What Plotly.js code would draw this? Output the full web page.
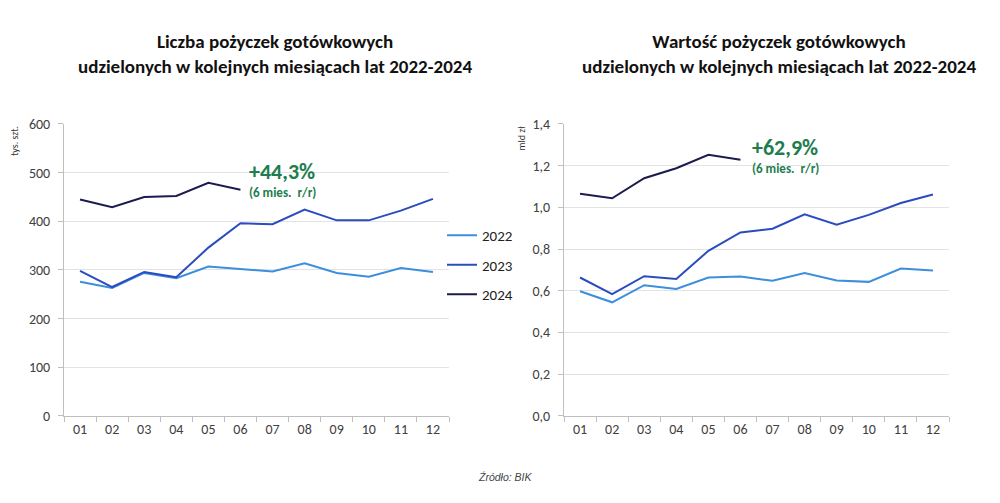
<!DOCTYPE html>
<html><head><meta charset="utf-8">
<script src="https://cdn.plot.ly/plotly-3.0.1.min.js"></script>
<style>html,body{margin:0;padding:0;background:#fff}#chart{width:1000px;height:503px}</style>
</head><body><div id="chart"></div>
<script>
const months = ["01","02","03","04","05","06","07","08","09","10","11","12"];
const years = ["2022","2023","2024"];
const count2022 = [276,263,294,283,307,302,297,314,294,286,304,296];
const count2023 = [298,265,296,285,346,396,394,424,402,402,422,446];
const count2024 = [445,429,450,452,479,465];
const value2022 = [0.598,0.545,0.627,0.609,0.664,0.669,0.648,0.685,0.650,0.643,0.707,0.698];
const value2023 = [0.664,0.584,0.670,0.657,0.792,0.880,0.898,0.967,0.917,0.964,1.021,1.062];
const value2024 = [1.066,1.044,1.140,1.188,1.252,1.228];
const colors = ["#3b8fdc","#2a4cbf","#1b1b4f"];

const countSeries = [count2022, count2023, count2024];
const valueSeries = [value2022, value2023, value2024];
const traces = [];
years.forEach((y,i)=>{
  traces.push({x: months.slice(0,countSeries[i].length), y: countSeries[i], type:'scatter', mode:'lines',
    name:y, legendgroup:y, line:{color:colors[i], width:2}, xaxis:'x', yaxis:'y'});
});
years.forEach((y,i)=>{
  traces.push({x: months.slice(0,valueSeries[i].length), y: valueSeries[i], type:'scatter', mode:'lines',
    name:y, legendgroup:y, showlegend:false, line:{color:colors[i], width:2}, xaxis:'x2', yaxis:'y2'});
});

const cal = "Carlito, Calibri, Lato, 'Open Sans', sans-serif";
const tickFont = {family:cal, size:14, color:'#404040'};
const xCommon = {type:'category', tickson:'boundaries', ticks:'outside', ticklen:5, tickcolor:'#bfbfbf',
  showline:true, linecolor:'#bfbfbf', linewidth:1, showgrid:false, tickfont:tickFont, range:[-0.5,11.5], fixedrange:true};
const yCommon = {ticks:'outside', ticklen:5, tickcolor:'#bfbfbf', showline:true, linecolor:'#bfbfbf', linewidth:1,
  showgrid:true, gridcolor:'#e3e3e3', gridwidth:1, zeroline:false, tickfont:tickFont, ticklabelstandoff:5};

const titleFont = {family:cal, size:19, color:'#111', weight:600};
const green = '#1e7d4f';
function ann(x, y, text, font, extra){
  return Object.assign({xref:'paper', yref:'paper', x:x/1000, y:1-y/503, xanchor:'center', yanchor:'middle',
    text:text, showarrow:false, font:font}, extra||{});
}
const layout = {
  width:1000, height:503, margin:{l:0,r:0,t:0,b:0}, paper_bgcolor:'#fff', plot_bgcolor:'#fff',
  showlegend:true,
  legend:{x:0.442, y:1-265/503, xanchor:'left', yanchor:'middle', font:{family:cal, size:15, color:'#222'},
    tracegroupgap:7, itemwidth:30, bgcolor:'rgba(0,0,0,0)'},
  xaxis: Object.assign({}, xCommon, {domain:[0.064,0.449], anchor:'y'}),
  yaxis: Object.assign({}, yCommon, {domain:[0.173,0.7535], range:[0,600], dtick:100, anchor:'x'}),
  xaxis2: Object.assign({}, xCommon, {domain:[0.564,0.949], anchor:'y2'}),
  yaxis2: Object.assign({}, yCommon, {domain:[0.173,0.7535], range:[0,1.4], dtick:0.2, tickformat:'.1f', anchor:'x2'}),
  separators:', ',
  annotations:[
    ann(275, 54, 'Liczba pożyczek gotówkowych<br>udzielonych w kolejnych miesiącach lat 2022-2024', titleFont),
    ann(779, 54, 'Wartość pożyczek gotówkowych<br>udzielonych w kolejnych miesiącach lat 2022-2024', titleFont),
    ann(14, 124, 'tys. szt.', {family:cal, size:10, color:'#333'}, {textangle:-90, yanchor:'top'}),
    ann(521, 124, 'mld zł', {family:cal, size:10, color:'#333'}, {textangle:-90, yanchor:'top'}),
    ann(282, 172, '<b>+44,3%</b>', {family:cal, size:22, color:green}),
    ann(282.5, 192, '<b>(6 mies.  r/r)</b>', {family:cal, size:13, color:green}),
    ann(784.5, 147, '<b>+62,9%</b>', {family:cal, size:22, color:green}),
    ann(785, 168, '<b>(6 mies.  r/r)</b>', {family:cal, size:13, color:green}),
    ann(505, 477, '<i>Źródło: BIK</i>', {family:"'Liberation Sans', Arial, sans-serif", size:10.5, color:'#444'})
  ]
};
Plotly.newPlot('chart', traces, layout, {displayModeBar:false, staticPlot:true});
</script>
</body></html>
